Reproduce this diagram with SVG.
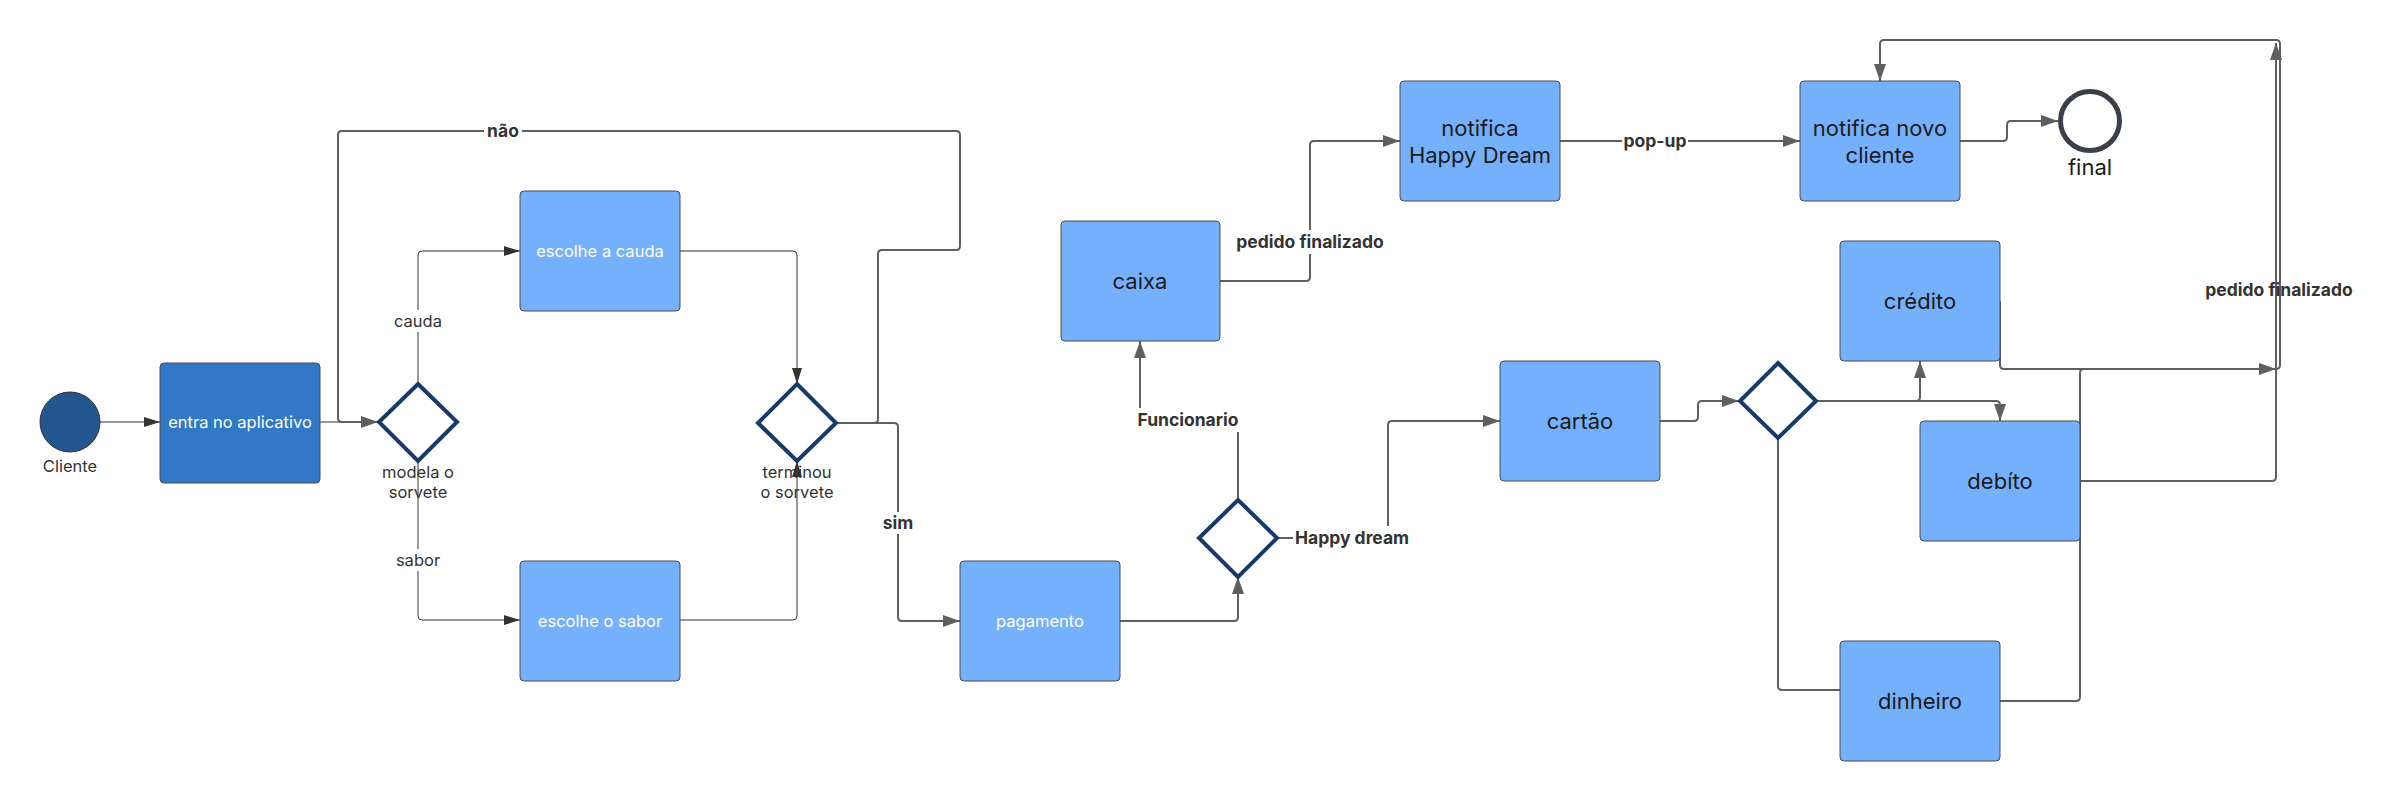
<svg xmlns="http://www.w3.org/2000/svg" width="2394" height="802" viewBox="0 0 2394 802">
<style>
.box{fill:#75b0fd;stroke:#4d4d4d;stroke-width:1}
.dbox{fill:#3178c7;stroke:#4d4d4d;stroke-width:1}
.dia{fill:#fff;stroke:#173a6b;stroke-width:4}
.tw{font-family:Inter,"Liberation Sans",sans-serif;font-size:16.5px;fill:#fff;text-anchor:middle}
.tb{font-family:Inter,"Liberation Sans",sans-serif;font-size:22px;fill:#1a1a1a;text-anchor:middle}
.tl{font-family:Inter,"Liberation Sans",sans-serif;font-size:16.5px;fill:#333;text-anchor:middle}
.lb{font-family:Inter,"Liberation Sans",sans-serif;font-size:17.5px;font-weight:bold;fill:#333;text-anchor:middle}
.cg{fill:none;stroke:#5f5f5f;stroke-width:2}
.ck{fill:none;stroke:#333;stroke-width:1}
.bg{fill:#fff}
</style>
<defs>
<marker id="ag" markerUnits="userSpaceOnUse" markerWidth="18" markerHeight="14" refX="17" refY="6" orient="auto"><path d="M0,0 L17,6 L0,12 z" fill="#5f5f5f"/></marker>
<marker id="ak" markerUnits="userSpaceOnUse" markerWidth="18" markerHeight="12" refX="16" refY="5" orient="auto"><path d="M0,0 L16,5 L0,10 z" fill="#333"/></marker>
</defs>
<rect width="2394" height="802" fill="#fff"/>

<g id="connectors">
<path class="ck" d="M100 422 H160" marker-end="url(#ak)"/>
<path class="ck" d="M320 422 H364"/>
<path class="cg" d="M836 423 H874 Q878 423 878 419 V254 Q878 250 882 250 H956 Q960 250 960 246 V135 Q960 131 956 131 H342 Q338 131 338 135 V418 Q338 422 342 422 H378" marker-end="url(#ag)"/>
<path class="cg" d="M836 423 H894 Q898 423 898 427 V617 Q898 621 902 621 H960" marker-end="url(#ag)"/>
<path class="ck" d="M418 384 V255 Q418 251 422 251 H520" marker-end="url(#ak)"/>
<path class="ck" d="M418 461 V616 Q418 620 422 620 H520" marker-end="url(#ak)"/>
<path class="ck" d="M680 251 H793 Q797 251 797 255 V384" marker-end="url(#ak)"/>
<path class="ck" d="M680 620 H793 Q797 620 797 616 V461" marker-end="url(#ak)"/>
<path class="cg" d="M1119 621 H1234 Q1238 621 1238 617 V577" marker-end="url(#ag)"/>
<path class="cg" d="M1238 500 V420 H1140 V341" marker-end="url(#ag)"/>
<path class="cg" d="M1220 281 H1306 Q1310 281 1310 277 V145 Q1310 141 1314 141 H1400" marker-end="url(#ag)"/>
<path class="cg" d="M1560 141 H1800" stroke-width="3" marker-end="url(#ag)"/>
<path class="cg" d="M1960 141 H2003 Q2007 141 2007 137 V125 Q2007 121 2011 121 H2058" marker-end="url(#ag)"/>
<path class="cg" d="M1277 538 H1388 V425 Q1388 421 1392 421 H1500" marker-end="url(#ag)"/>
<path class="cg" d="M1660 421 H1694 Q1698 421 1698 417 V405 Q1698 401 1702 401 H1739" marker-end="url(#ag)"/>
<path class="cg" d="M1816 401 H1916 Q1920 401 1920 397 V361" marker-end="url(#ag)"/>
<path class="cg" d="M1816 401 H1996 Q2000 401 2000 405 V421" marker-end="url(#ag)"/>
<path class="cg" d="M1778 438 V686 Q1778 690 1782 690 H1840"/>
<path class="cg" d="M2000 301 V365 Q2000 369 2004 369 H2276" marker-end="url(#ag)"/>
<path class="cg" d="M2000 701 H2076 Q2080 701 2080 697 V373 Q2080 369 2084 369 H2276"/>
<path class="cg" d="M2080 481 H2272 Q2276 481 2276 477 V43" marker-end="url(#ag)"/>
<path class="cg" d="M2276 369 Q2280 369 2280 365 V44 Q2280 40 2276 40 H1884 Q1880 40 1880 44 V81" marker-end="url(#ag)"/>

<rect class="bg" x="484" y="120" width="38" height="22"/>
<text class="lb" x="503" y="137">não</text>
<rect class="bg" x="882" y="512" width="32" height="22"/>
<text class="lb" x="898" y="529">sim</text>
<rect class="bg" x="394" y="310" width="48" height="22"/>
<text class="tl" x="418" y="327">cauda</text>
<rect class="bg" x="394" y="549" width="48" height="22"/>
<text class="tl" x="418" y="566">sabor</text>
<rect class="bg" x="1134" y="408" width="108" height="24"/>
<text class="lb" x="1188" y="426">Funcionario</text>
<rect class="bg" x="1232" y="230" width="156" height="24"/>
<text class="lb" x="1310" y="248">pedido finalizado</text>
<rect class="bg" x="1622" y="130" width="66" height="24"/>
<text class="lb" x="1655" y="147">pop-up</text>
<rect class="bg" x="1293" y="526" width="119" height="24"/>
<text class="lb" x="1352" y="544">Happy dream</text>
<text class="lb" x="2279" y="296">pedido finalizado</text>
</g>

<g id="cliente">
<circle cx="70" cy="422" r="30" fill="#23558f" stroke="#333" stroke-width="1"/>
<text class="tl" x="70" y="472">Cliente</text>
</g>
<g id="entra">
<rect class="dbox" x="160" y="363" width="160" height="120" rx="4"/>
<text class="tw" x="240" y="428">entra no aplicativo</text>
</g>
<g id="modela">
<polygon class="dia" points="418,384 457,422 418,461 379,422"/>
<text class="tl" x="418" y="478">modela o</text>
<text class="tl" x="418" y="498">sorvete</text>
</g>
<g id="cauda">
<rect class="box" x="520" y="191" width="160" height="120" rx="4"/>
<text class="tw" x="600" y="257">escolhe a cauda</text>
</g>
<g id="sabor">
<rect class="box" x="520" y="561" width="160" height="120" rx="4"/>
<text class="tw" x="600" y="627">escolhe o sabor</text>
</g>
<g id="terminou">
<polygon class="dia" points="797,384 836,423 797,461 758,423"/>
<text class="tl" x="797" y="478">terminou</text>
<text class="tl" x="797" y="498">o sorvete</text>
</g>
<g id="pagamento">
<rect class="box" x="960" y="561" width="160" height="120" rx="4"/>
<text class="tw" x="1040" y="627">pagamento</text>
</g>
<g id="decisao-pagamento">
<polygon class="dia" points="1238,500 1277,538 1238,577 1199,538"/>
</g>
<g id="caixa">
<rect class="box" x="1061" y="221" width="159" height="120" rx="4"/>
<text class="tb" x="1140" y="289">caixa</text>
</g>
<g id="notifica-hd">
<rect class="box" x="1400" y="81" width="160" height="120" rx="4"/>
<text class="tb" x="1480" y="136">notifica</text>
<text class="tb" x="1480" y="163">Happy Dream</text>
</g>
<g id="notifica-cliente">
<rect class="box" x="1800" y="81" width="160" height="120" rx="4"/>
<text class="tb" x="1880" y="136">notifica novo</text>
<text class="tb" x="1880" y="163">cliente</text>
</g>
<g id="final">
<circle cx="2090" cy="121" r="29.5" fill="#fff" stroke="#3a3f4b" stroke-width="5"/>
<text class="tb" x="2090" y="175">final</text>
</g>
<g id="cartao">
<rect class="box" x="1500" y="361" width="160" height="120" rx="4"/>
<text class="tb" x="1580" y="429">cartão</text>
</g>
<g id="decisao-cartao">
<polygon class="dia" points="1778,363 1816,401 1778,438 1740,401"/>
</g>
<g id="credito">
<rect class="box" x="1840" y="241" width="160" height="120" rx="4"/>
<text class="tb" x="1920" y="309">crédito</text>
</g>
<g id="debito">
<rect class="box" x="1920" y="421" width="160" height="120" rx="4"/>
<text class="tb" x="2000" y="489">debíto</text>
</g>
<g id="dinheiro">
<rect class="box" x="1840" y="641" width="160" height="120" rx="4"/>
<text class="tb" x="1920" y="709">dinheiro</text>
</g>
</svg>
